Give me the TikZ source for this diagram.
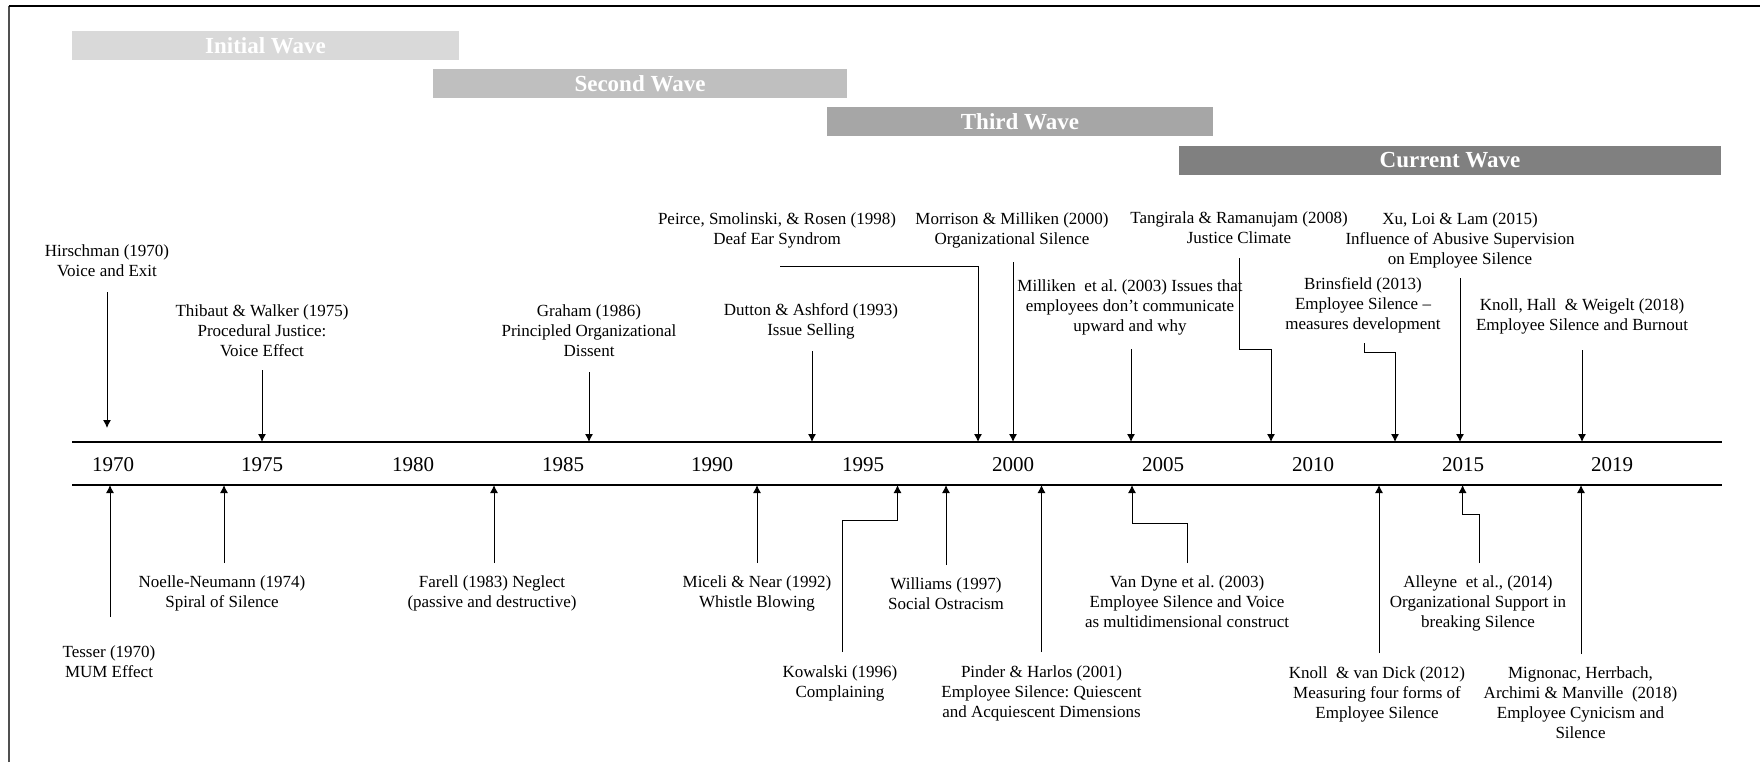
\documentclass[tikz,border=0pt]{standalone}
\usepackage{fontspec}
\setmainfont{Liberation Serif}
\usetikzlibrary{arrows.meta}
\frenchspacing
\definecolor{waveA}{HTML}{D9D9D9}
\definecolor{waveB}{HTML}{BFBFBF}
\definecolor{waveC}{HTML}{A6A6A6}
\definecolor{waveD}{HTML}{808080}
\definecolor{framegray}{HTML}{505050}
\begin{document}
\begin{tikzpicture}[x=0.5pt,y=-0.5pt,
  txt/.style={font=\fontsize{8.5}{10}\selectfont, align=center, inner sep=0pt, anchor=base},
  yr/.style={font=\fontsize{10.5}{12}\selectfont, inner sep=0pt, anchor=center},
  wavelbl/.style={font=\bfseries\fontsize{11.5}{13}\selectfont, text=white, inner sep=0pt, anchor=center},
  arr/.style={-{Latex[length=4pt,width=4pt]}, line width=0.5pt},
  axisline/.style={line width=0.7pt}]
\useasboundingbox (0,0) rectangle (1760,762);
% frame
\draw[line width=1pt, framegray] (9,762) -- (9,6);
\draw[line width=1.1pt] (8.5,6) -- (1760,6);
% waves
\fill[waveA] (72,31) rectangle (459,60);
\node[wavelbl] (w1) at (265.5,45.5) {Initial Wave};
\fill[waveB] (433,69) rectangle (847,98);
\node[wavelbl] (w2) at (640,83.5) {Second Wave};
\fill[waveC] (827,107) rectangle (1213,136);
\node[wavelbl] (w3) at (1020,121.5) {Third Wave};
\fill[waveD] (1179,146) rectangle (1721,175);
\node[wavelbl] (w4) at (1450,160.5) {Current Wave};
% axis
\coordinate (axT) at (72,442);
\coordinate (axB) at (72,485);
\draw[axisline] (axT) -- (1722,442);
\draw[axisline] (axB) -- (1722,485);
% years
\node[yr] (y1970) at (113,465) {1970};
\node[yr] (y1975) at (262,465) {1975};
\node[yr] (y1980) at (413,465) {1980};
\node[yr] (y1985) at (563,465) {1985};
\node[yr] (y1990) at (712,465) {1990};
\node[yr] (y1995) at (863,465) {1995};
\node[yr] (y2000) at (1013,465) {2000};
\node[yr] (y2005) at (1163,465) {2005};
\node[yr] (y2010) at (1313,465) {2010};
\node[yr] (y2015) at (1463,465) {2015};
\node[yr] (y2019) at (1612,465) {2019};
% ---------- top items ----------
\node[txt] (hir) at (107,276.5) {Hirschman (1970)\\Voice and Exit};
\coordinate (hirS) at (107,292);
\coordinate (hirE) at (107,428);
\draw[arr] (hirS) -- (hirE);

\node[txt] (thi) at (262,356.5) {Thibaut \& Walker (1975)\\Procedural Justice:\\Voice Effect};
\coordinate (thiS) at (262,370);
\draw[arr] (thiS) -- (thiS |- axT);

\node[txt] (gra) at (589,356.5) {Graham (1986)\\Principled Organizational\\Dissent};
\coordinate (graS) at (589,372);
\draw[arr] (graS) -- (graS |- axT);

\node[txt] (pei) at (777,244.5) {Peirce, Smolinski, \& Rosen (1998)\\Deaf Ear Syndrom};
\coordinate (peiS) at (780,266);
\coordinate (peiE) at (978,442);
\draw[arr] (peiS) -| (peiE);

\node[txt] (mor) at (1012,244.5) {Morrison \& Milliken (2000)\\Organizational Silence};
\coordinate (morS) at (1013,262);
\draw[arr] (morS) -- (morS |- axT);

\node[txt] (dut) at (811,335.5) {Dutton \& Ashford (1993)\\Issue Selling};
\coordinate (dutS) at (812,351);
\draw[arr] (dutS) -- (dutS |- axT);

\node[txt] (mil) at (1130,331.5) {Milliken\ \ et al. (2003) Issues that\\employees don’t communicate\\upward and why};
\coordinate (milS) at (1131,349);
\draw[arr] (milS) -- (milS |- axT);

\node[txt] (tan) at (1239,243.5) {Tangirala \& Ramanujam (2008)\\Justice Climate};
\coordinate (tanS) at (1239,258);
\coordinate (tanM) at (1271,349);
\draw[arr] (tanS) |- (tanM) -- (tanM |- axT);

\node[txt] (bri) at (1363,329.5) {Brinsfield (2013)\\Employee Silence –\\measures development};
\coordinate (briS) at (1364,343);
\coordinate (briM) at (1395,352);
\draw[arr] (briS) |- (briM) -- (briM |- axT);

\node[txt] (xu) at (1460,264) {Xu, Loi \& Lam (2015)\\Influence of Abusive Supervision\\on Employee Silence};
\coordinate (xuS) at (1460,278);
\draw[arr] (xuS) -- (xuS |- axT);

\node[txt] (kno) at (1582,330.5) {Knoll, Hall\ \ \& Weigelt (2018)\\Employee Silence and Burnout};
\coordinate (knoS) at (1582,350);
\draw[arr] (knoS) -- (knoS |- axT);

% ---------- bottom items ----------
\node[txt] (tes) at (109,677.5) {Tesser (1970)\\MUM Effect};
\coordinate (tesS) at (110,617);
\draw[arr] (tesS) -- (tesS |- axB);

\node[txt] (noe) at (222,607.5) {Noelle-Neumann (1974)\\Spiral of Silence};
\coordinate (noeS) at (224,563);
\draw[arr] (noeS) -- (noeS |- axB);

\node[txt] (far) at (492,607.5) {Farell (1983) Neglect\\(passive and destructive)};
\coordinate (farS) at (494,563);
\draw[arr] (farS) -- (farS |- axB);

\node[txt] (mic) at (757,607.5) {Miceli \& Near (1992)\\Whistle Blowing};
\coordinate (micS) at (757,563);
\draw[arr] (micS) -- (micS |- axB);

\node[txt] (kow) at (840,697.5) {Kowalski (1996)\\Complaining};
\coordinate (kowS) at (842,652);
\coordinate (kowM) at (897.5,520);
\draw[arr] (kowS) |- (kowM) -- (kowM |- axB);

\node[txt] (wil) at (946,609.5) {Williams (1997)\\Social Ostracism};
\coordinate (wilS) at (946,565);
\draw[arr] (wilS) -- (wilS |- axB);

\node[txt] (pin) at (1041.5,717.5) {Pinder \& Harlos (2001)\\Employee Silence: Quiescent\\and Acquiescent Dimensions};
\coordinate (pinS) at (1041.5,652);
\draw[arr] (pinS) -- (pinS |- axB);

\node[txt] (van) at (1187,627.5) {Van Dyne et al. (2003)\\Employee Silence and Voice\\as multidimensional construct};
\coordinate (vanS) at (1187,563);
\coordinate (vanM) at (1132,523);
\draw[arr] (vanS) |- (vanM) -- (vanM |- axB);

\node[txt] (knv) at (1377,718.5) {Knoll\ \ \& van Dick (2012)\\Measuring four forms of\\Employee Silence};
\coordinate (knvS) at (1379,653);
\draw[arr] (knvS) -- (knvS |- axB);

\node[txt] (all) at (1478,627.5) {Alleyne\ \ et al., (2014)\\Organizational Support in\\breaking Silence};
\coordinate (allS) at (1479,563);
\coordinate (allM) at (1462.6,514);
\draw[arr] (allS) |- (allM) -- (allM |- axB);

\node[txt] (mig) at (1580.5,738.5) {Mignonac, Herrbach,\\Archimi \& Manville\ \ (2018)\\Employee Cynicism and\\Silence};
\coordinate (migS) at (1581,654);
\draw[arr] (migS) -- (migS |- axB);
\end{tikzpicture}
\end{document}
